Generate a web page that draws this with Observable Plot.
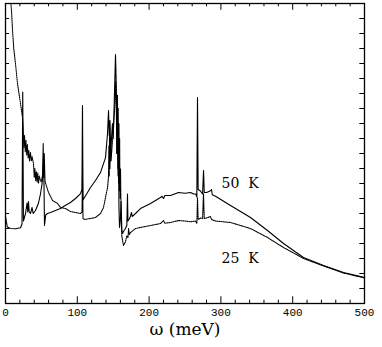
<!DOCTYPE html>
<html>
<head>
<meta charset="utf-8">
<script src="https://cdn.jsdelivr.net/npm/d3@7"></script>
<script src="https://cdn.jsdelivr.net/npm/@observablehq/plot@0.6"></script>
<style>
  html, body { margin: 0; padding: 0; background: #fff; }
  g[aria-label="xtick-labels"] text { letter-spacing: 1.3px; }
  g[aria-label="x-title"] text { letter-spacing: 1px; }
</style>
</head>
<body>
<div id="chart"></div>
<script>
// 50 K spectrum: [omega (meV), value]
const k50 = [
  [0, 5.8], [2.5, 5.1], [7, 5.0], [14, 4.98], [20.9, 5.05], [23, 5.3], [24, 14.1], [25, 5.5],
  [27.9, 6.0], [30, 6.7], [31, 6.1], [32, 6.8], [33, 6.1], [34.8, 6.0], [37, 6.4], [38.5, 6.0],
  [41.8, 6.2], [46, 6.7], [48.7, 7.3], [51, 8.0], [52.5, 9.0], [53, 9.73], [53.6, 8.0], [54.3, 5.2],
  [56, 5.9], [58.5, 6.0], [62.7, 6.07], [69.6, 6.2], [76.6, 6.33], [83.6, 6.55], [90.5, 6.73],
  [97.5, 7.0], [104.5, 7.33], [106.5, 7.6], [107.2, 13.2], [108, 6.9], [110, 7.07], [118.4, 7.73],
  [125.3, 8.2], [132.3, 8.73], [139.3, 9.73], [142.1, 11.33], [143.5, 12.87], [144.5, 11.2],
  [145.5, 12.2], [146.5, 10.0], [148, 11.3], [149, 12.0], [150, 11.0], [151.5, 13.5], [153.2, 16.6],
  [154.3, 14.5], [155.2, 10.0], [156, 12.0], [156.8, 8.5], [157.4, 12.0], [158, 6.5], [158.8, 5.07],
  [160, 5.6], [161, 6.8], [162, 4.9], [163, 4.67], [164.3, 4.8], [167, 5.0], [169, 5.2], [169.9, 7.3],
  [170.5, 5.5], [172, 5.6], [174, 5.8], [175.5, 6.07], [176.5, 5.8], [181.1, 6.0], [188, 6.33],
  [202, 6.67], [215.9, 7.07], [218, 7.15], [220, 7.0], [222, 7.2], [229.8, 7.2], [241, 7.4],
  [250, 7.35], [257.7, 7.4], [262, 7.3], [265, 7.3], [266.5, 7.1], [267.4, 13.73], [268.3, 7.6],
  [271.6, 7.5], [274.5, 7.3], [275.8, 8.87], [276.8, 7.4], [280, 7.4], [285, 7.5], [286.9, 7.6],
  [288, 7.25], [292.5, 7.15], [313.4, 6.53], [341.2, 5.73], [364.9, 4.87], [387.2, 4.0],
  [415, 3.07], [443, 2.53], [470.8, 2.07], [500, 1.73]
];

// 25 K spectrum: [omega (meV), value]
const k25 = [
  [7.5, 20], [8.4, 19.5], [9.7, 18.3], [11.5, 17.0], [13.9, 16.0], [16.7, 14.67], [20.9, 13.33],
  [23.7, 12.4], [24.5, 11.8], [25.5, 10.4], [26.5, 11.2], [27.5, 10.1], [28.5, 10.9], [29.5, 9.9],
  [30.5, 10.6], [31.5, 9.7], [32.5, 10.2], [33.5, 9.5], [34.8, 10.07], [36, 9.5], [37, 9.8],
  [39, 9.33], [40, 8.4], [41, 9.0], [42, 8.2], [43, 8.8], [44, 8.1], [45, 8.7], [46, 8.0], [47, 8.5],
  [48.7, 8.2], [50, 8.1], [51.5, 8.6], [52.5, 10.67], [53.2, 8.4], [54, 10.0], [55, 8.2], [56, 8.0],
  [59.9, 7.4], [65.5, 6.87], [72.4, 6.67], [76.6, 6.4], [83.6, 6.33], [90.5, 6.13], [104.5, 6.0],
  [106.5, 6.1], [107.2, 8.5], [108, 5.67], [110, 5.6], [118.4, 5.67], [125.3, 5.73], [132.3, 6.0],
  [136.5, 6.4], [139.3, 7.07], [142.1, 7.73], [143.5, 8.5], [144, 10.5], [144.5, 8.5], [145, 12.0],
  [145.5, 9.0], [146.2, 11.0], [147, 9.5], [148.5, 10.5], [150, 11.5], [152, 13.0], [153.5, 14.8],
  [154.5, 12.5], [155, 10.0], [156, 13.9], [156.5, 9.0], [157, 13.0], [157.5, 8.0], [158, 12.0],
  [158.5, 7.5], [159, 11.0], [159.5, 7.0], [160.2, 9.0], [161, 6.0], [162, 4.5], [164.3, 3.87],
  [167, 4.1], [169, 4.5], [170.5, 4.4], [171.5, 5.0], [172.5, 4.6], [174.1, 4.73], [181.1, 5.0],
  [188, 5.07], [202, 5.2], [215.9, 5.33], [220, 5.53], [222, 5.35], [229.8, 5.4], [241, 5.53],
  [250, 5.5], [257.7, 5.45], [264.6, 5.5], [266.5, 5.33], [267.4, 7.07], [268.3, 5.6], [271.6, 5.7],
  [274.5, 5.67], [275.8, 7.33], [276.8, 5.67], [280, 5.7], [285.5, 5.8], [287, 5.6], [292.5, 5.5],
  [313.4, 5.4], [341.2, 5.0], [364.9, 4.4], [387.2, 3.73], [400, 3.4], [415, 3.0], [443, 2.5],
  [470.8, 2.03], [500, 1.7]
];

const seriesLabels = ["50\u00a0\u00a0K", "25\u00a0\u00a0K"];
const xMajorTicks = [0, 100, 200, 300, 400, 500];
const xMinorTicks = [20, 40, 60, 80, 120, 140, 160, 180, 220, 240, 260, 280, 320, 340, 360, 380, 420, 440, 460, 480];
const yTicks = [1, 2, 3, 4, 5, 6, 7, 8, 9, 10, 11, 12, 13, 14, 15, 16, 17, 18, 19];
const xTitle = "ω (meV)";

const plot = Plot.plot({
  width: 382,
  height: 347,
  marginLeft: 5,
  marginRight: 18,
  marginTop: 3,
  marginBottom: 44,
  x: { domain: [0, 500], axis: null },
  y: { domain: [0, 20], axis: null },
  style: { background: "#fff", color: "#000" },
  marks: [
    // inward ticks
    Plot.ruleX(xMinorTicks, { x: d => d, y1: 0, y2: 0.22, stroke: "#000" }),
    Plot.ruleX(xMajorTicks, { x: d => d, y1: 0, y2: 0.45, stroke: "#000" }),
    Plot.ruleX(xMinorTicks, { x: d => d, y1: 20, y2: 19.78, stroke: "#000" }),
    Plot.ruleX(xMajorTicks, { x: d => d, y1: 20, y2: 19.55, stroke: "#000" }),
    Plot.ruleY(yTicks, { y: d => d, x1: 0, x2: 5.6, stroke: "#000" }),
    Plot.ruleY(yTicks, { y: d => d, x1: 500, x2: 493.5, stroke: "#000" }),
    // curves
    Plot.line(k25, { x: d => d[0], y: d => d[1], stroke: "#000", strokeWidth: 1.1, strokeDasharray: "1,1", clip: true }),
    Plot.line(k50, { x: d => d[0], y: d => d[1], stroke: "#000", strokeWidth: 1.1, clip: true }),
    Plot.frame({ stroke: "#000", strokeWidth: 1.3 }),
    // tick labels
    Plot.text(xMajorTicks, {
      x: d => d, y: 0, dy: 9, text: d => String(d),
      fontFamily: "Liberation Mono", fontSize: 11, fill: "#000", ariaLabel: "xtick-labels"
    }),
    // axis title
    Plot.text([xTitle], {
      frameAnchor: "bottom", dy: 26, lineAnchor: "middle", text: d => d,
      fontFamily: "DejaVu Serif", fontSize: 17, fill: "#000", ariaLabel: "x-title"
    }),
    // series labels
    Plot.text([seriesLabels[0]], { x: 301, y: 8.0, text: d => d, textAnchor: "start",
      fontFamily: "DejaVu Serif", fontSize: 14, fill: "#000" }),
    Plot.text([seriesLabels[1]], { x: 301, y: 3.0, text: d => d, textAnchor: "start",
      fontFamily: "DejaVu Serif", fontSize: 14, fill: "#000" })
  ]
});
document.getElementById("chart").appendChild(plot);
</script>
</body>
</html>
